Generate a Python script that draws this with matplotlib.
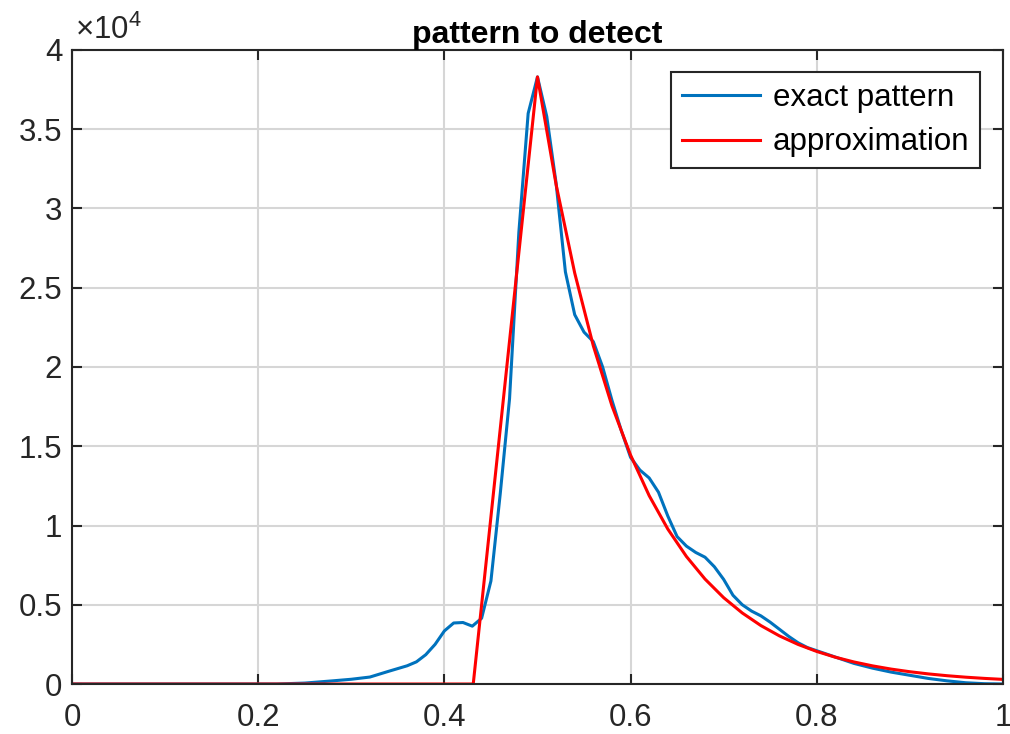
import matplotlib
matplotlib.use('Agg')
import matplotlib.pyplot as plt
from matplotlib.ticker import FuncFormatter, MultipleLocator

# measured pattern
x_exact = [0, 0.22, 0.25, 0.28, 0.30, 0.32, 0.34, 0.36, 0.37, 0.38, 0.39, 0.40,
           0.41, 0.42, 0.43, 0.44, 0.45, 0.46, 0.47, 0.48, 0.49, 0.50, 0.51,
           0.52, 0.53, 0.54, 0.55, 0.56, 0.57, 0.58, 0.59, 0.60, 0.61, 0.62,
           0.63, 0.64, 0.65, 0.66, 0.67, 0.68, 0.69, 0.70, 0.71, 0.72, 0.73,
           0.74, 0.75, 0.76, 0.77, 0.78, 0.79, 0.80, 0.82, 0.84, 0.86, 0.88,
           0.90, 0.92, 0.94, 0.96, 0.98, 1.00]
y_exact = [0, 0, 60, 200, 300, 440, 800, 1150, 1400, 1850, 2500, 3350,
           3850, 3880, 3650, 4150, 6500, 12000, 18000, 28500, 36000, 38300, 35800,
           31600, 26000, 23300, 22200, 21600, 20000, 17900, 16000, 14300, 13500, 13000,
           12100, 10600, 9300, 8700, 8300, 8000, 7400, 6600, 5600, 5000, 4600,
           4300, 3900, 3450, 3000, 2600, 2300, 2100, 1700, 1300, 1000, 750,
           550, 350, 200, 80, 20, 0]

# fitted approximation: linear rise then exponential tail
x_approx = [0, 0.431, 0.50, 0.52, 0.54, 0.56, 0.58, 0.60, 0.62, 0.64, 0.66,
            0.68, 0.70, 0.72, 0.74, 0.76, 0.78, 0.80, 0.82, 0.84, 0.86, 0.88,
            0.90, 0.92, 0.94, 0.96, 0.98, 1.00]
y_approx = [0, 0, 38300, 31513, 25929, 21334, 17554, 14443, 11884, 9778, 8045,
            6620, 5447, 4482, 3687, 3034, 2496, 2054, 1690, 1391, 1144, 941,
            775, 637, 524, 431, 355, 292]

plt.rcParams['font.family'] = ['Liberation Sans', 'DejaVu Sans']
plt.rcParams['mathtext.fontset'] = 'custom'
plt.rcParams['mathtext.rm'] = 'Liberation Sans'

fs = 22.5
edge = '#262626'

fig = plt.figure(figsize=(10.1, 7.34), dpi=100)
ax = fig.add_axes([0.0713, 0.0681, 0.9217, 0.8638])

ax.plot(x_exact, y_exact, color='#0072BD', lw=2.2, label='exact pattern')
ax.plot(x_approx, y_approx, color='#FF0000', lw=2.2, label='approximation')

ax.set_xlim(0, 1)
ax.set_ylim(0, 40000)
ax.xaxis.set_major_locator(MultipleLocator(0.2))
ax.yaxis.set_major_locator(MultipleLocator(5000))
ax.xaxis.set_major_formatter(FuncFormatter(lambda v, p: f'{v:g}'))
ax.yaxis.set_major_formatter(FuncFormatter(lambda v, p: f'{v / 1e4:g}'))

for s in ax.spines.values():
    s.set_color(edge)
    s.set_linewidth(1.5)
ax.tick_params(direction='in', length=7, width=1.5, color=edge, labelsize=fs,
               top=True, right=True, labelcolor=edge)
ax.tick_params(axis='x', pad=14)
ax.tick_params(axis='y', pad=7)
ax.grid(True, color='#d6d6d6', lw=1.5)
ax.set_axisbelow(True)

ax.set_title('pattern to detect', fontsize=23, fontweight='bold', pad=5)
ax.text(0.003, 1.006, r'$\times10^4$', transform=ax.transAxes, fontsize=fs,
        color=edge, ha='left', va='bottom')

leg = ax.legend(loc='upper right', fontsize=fs, fancybox=False, framealpha=1,
                edgecolor=edge, handlelength=2.5, borderaxespad=0.72,
                labelspacing=0.45, handletextpad=0.4, borderpad=0.35)
leg.get_frame().set_linewidth(1.5)

fig.savefig('out.png', dpi=100)
